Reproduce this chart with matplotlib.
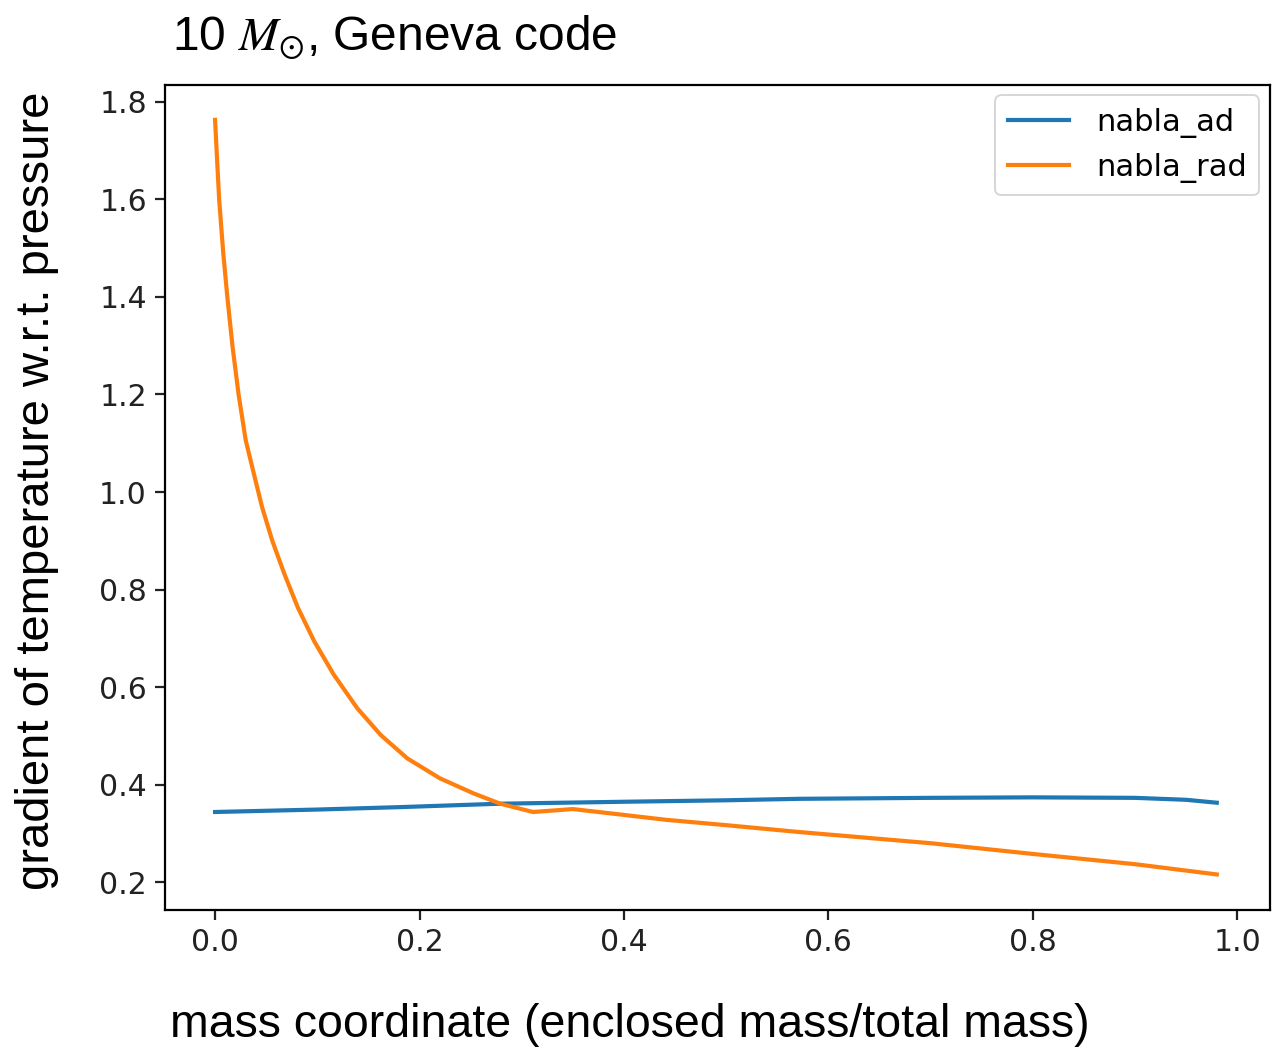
import matplotlib.pyplot as plt

# enclosed mass fraction vs. temperature gradients
m_ad = [0.0, 0.1, 0.181, 0.279, 0.4, 0.5, 0.571, 0.7, 0.8, 0.9, 0.95, 0.98]
nabla_ad = [0.344, 0.349, 0.354, 0.361, 0.365, 0.368, 0.371, 0.373, 0.374, 0.373, 0.369, 0.363]

m_rad = [0.0, 0.002, 0.004, 0.008, 0.012, 0.017, 0.023, 0.030, 0.038, 0.046, 0.056,
         0.068, 0.081, 0.097, 0.116, 0.139, 0.162, 0.188, 0.220, 0.253, 0.279, 0.311,
         0.35, 0.4, 0.441, 0.5, 0.571, 0.7, 0.8, 0.9, 0.98]
nabla_rad = [1.763, 1.68, 1.60, 1.49, 1.40, 1.30, 1.20, 1.106, 1.037, 0.969, 0.900,
             0.831, 0.763, 0.694, 0.626, 0.557, 0.502, 0.454, 0.413, 0.382, 0.361, 0.344,
             0.35, 0.338, 0.328, 0.317, 0.303, 0.280, 0.258, 0.237, 0.216]

fig = plt.figure(figsize=(12.73, 10.5), dpi=100)
ax = fig.add_axes([0.1296, 0.1333, 0.868, 0.786])

ax.plot(m_ad, nabla_ad, color='#1f77b4', lw=3, label='nabla_ad')
ax.plot(m_rad, nabla_rad, color='#ff7f0e', lw=3, label='nabla_rad')

ax.set_xlim(-0.049, 1.032)
ax.set_ylim(0.143, 1.835)
ax.set_xticks([0.0, 0.2, 0.4, 0.6, 0.8, 1.0])
ax.set_yticks([0.2, 0.4, 0.6, 0.8, 1.0, 1.2, 1.4, 1.6, 1.8])
ax.tick_params(labelsize=21.5, length=7, width=1.6, pad=6, colors='#222222')
for s in ax.spines.values():
    s.set_linewidth(1.6)

leg = ax.legend(loc='upper right', fontsize=22, handlelength=2.0, borderpad=0.4,
                labelspacing=0.5, handletextpad=0.9, borderaxespad=0.35)
leg.get_frame().set_linewidth(1.4)

plt.rcParams['mathtext.fontset'] = 'stix'
fig.text(0.135, 0.952, r'10 $M_{\odot}$, Geneva code', fontsize=34.5,
         family='Liberation Sans', va='baseline')
fig.text(0.495, 0.024, 'mass coordinate (enclosed mass/total mass)', fontsize=33.5,
         family='Liberation Sans', ha='center', va='center')
fig.text(0.029, 0.533, 'gradient of temperature w.r.t. pressure', fontsize=34,
         family='Liberation Sans', rotation=90, ha='center', va='center')

fig.savefig('out.png', dpi=100)
